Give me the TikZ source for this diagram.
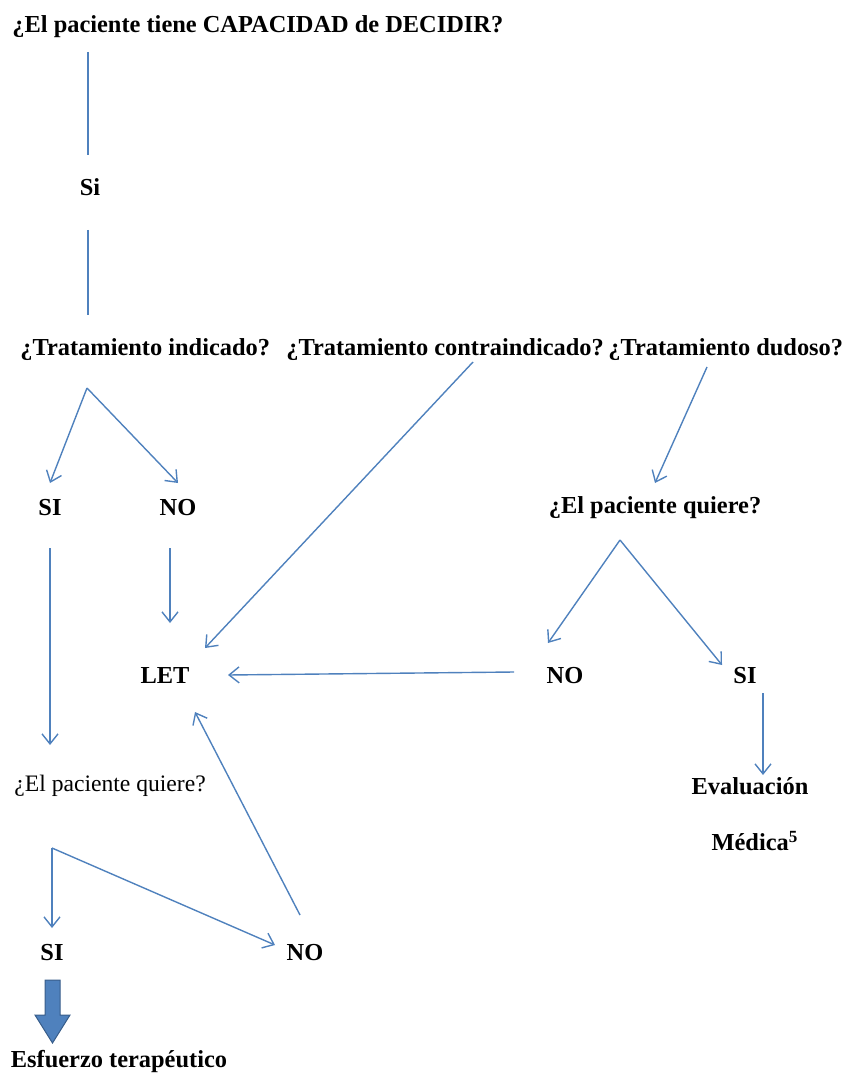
\documentclass[tikz,border=0pt]{standalone}
\usepackage{fontspec}
\setmainfont{Liberation Serif}
\usetikzlibrary{positioning,arrows.meta}
\definecolor{lineblue}{HTML}{4F81BD}
\definecolor{darkblue}{HTML}{385D8A}
\begin{document}
\begin{tikzpicture}[x=0.5pt,y=-0.5pt,
    lbl/.style={font=\fontsize{12.2}{15}\selectfont\bfseries, inner sep=1pt},
    plain/.style={font=\fontsize{11.8}{14}\selectfont, inner sep=1pt},
    conn/.style={draw=lineblue, line width=0.7pt},
    arr/.style={conn, -{Straight Barb[length=5pt,width=8pt]}}]
  \useasboundingbox (0,0) rectangle (845,1079);
  % textos
  \node[lbl, anchor=west] (capacidad) at (10,27)  {¿El paciente tiene CAPACIDAD de DECIDIR?};
  \node[lbl] (si)        at (90,187)  {Si};
  \node[lbl, anchor=west] (indicado) at (18,350)  {¿Tratamiento indicado?};
  \node[lbl, anchor=west] (contra)   at (284,350) {¿Tratamiento contraindicado?};
  \node[lbl, anchor=west] (dudoso)   at (606,350) {¿Tratamiento dudoso?};
  \node[lbl] (siA)       at (50,508)  {SI};
  \node[lbl] (noA)       at (178,508) {NO};
  \node[lbl] (quiereR)   at (655,508) {¿El paciente quiere?};
  \node[lbl] (let)       at (165,676) {LET};
  \node[lbl] (noR)       at (565,676) {NO};
  \node[lbl] (siR)       at (745,676) {SI};
  \node[lbl] (eval)      at (750,786) {Evaluación};
  \node[lbl] (medica)    at (755,841) {Médica\textsuperscript{5}};
  \node[plain, anchor=west] (quiereL) at (12,786) {¿El paciente quiere?};
  \node[lbl] (siL)       at (52,953)  {SI};
  \node[lbl] (noL)       at (305,953) {NO};
  \node[lbl] (esfuerzo)  at (119,1061) {Esfuerzo terapéutico};
  % puntos de las lineas
  \coordinate (c1) at (88,52);   \coordinate (c2) at (88,155);
  \coordinate (c3) at (88,230);  \coordinate (c4) at (88,315);
  \coordinate (ind) at (87,388);
  \coordinate (con) at (473,362);
  \coordinate (dud) at (707,367);
  \coordinate (qr) at (620,540);
  \coordinate (siAb) at (50,548); \coordinate (noAb) at (170,548);
  \coordinate (noRw) at (514,672);
  \coordinate (siRb) at (763,693);
  \coordinate (ql) at (52,848);
  \coordinate (noLt) at (300,915);
  % conectores
  \draw[conn] (c1) -- (c2);
  \draw[conn] (c3) -- (c4);
  \draw[arr] (ind) -- (50,483);
  \draw[arr] (ind) -- (178,483);
  \draw[arr] (con) -- (205,648);
  \draw[arr] (dud) -- (655,483);
  \draw[arr] (siAb) -- (50,745);
  \draw[arr] (noAb) -- (170,623);
  \draw[arr] (noRw) -- (228,675);
  \draw[arr] (qr) -- (548,643);
  \draw[arr] (qr) -- (722,665);
  \draw[arr] (siRb) -- (763,775);
  \draw[arr] (ql) -- (52,928);
  \draw[arr] (ql) -- (275,945);
  \draw[arr] (noLt) -- (195,712);
  % flecha gruesa
  \draw[fill=lineblue, draw=darkblue, line width=0.5pt]
    (45,980) -- (60,980) -- (60,1015) -- (70,1015) -- (52.5,1043)
    -- (35,1015) -- (45,1015) -- cycle;
\end{tikzpicture}
\end{document}
